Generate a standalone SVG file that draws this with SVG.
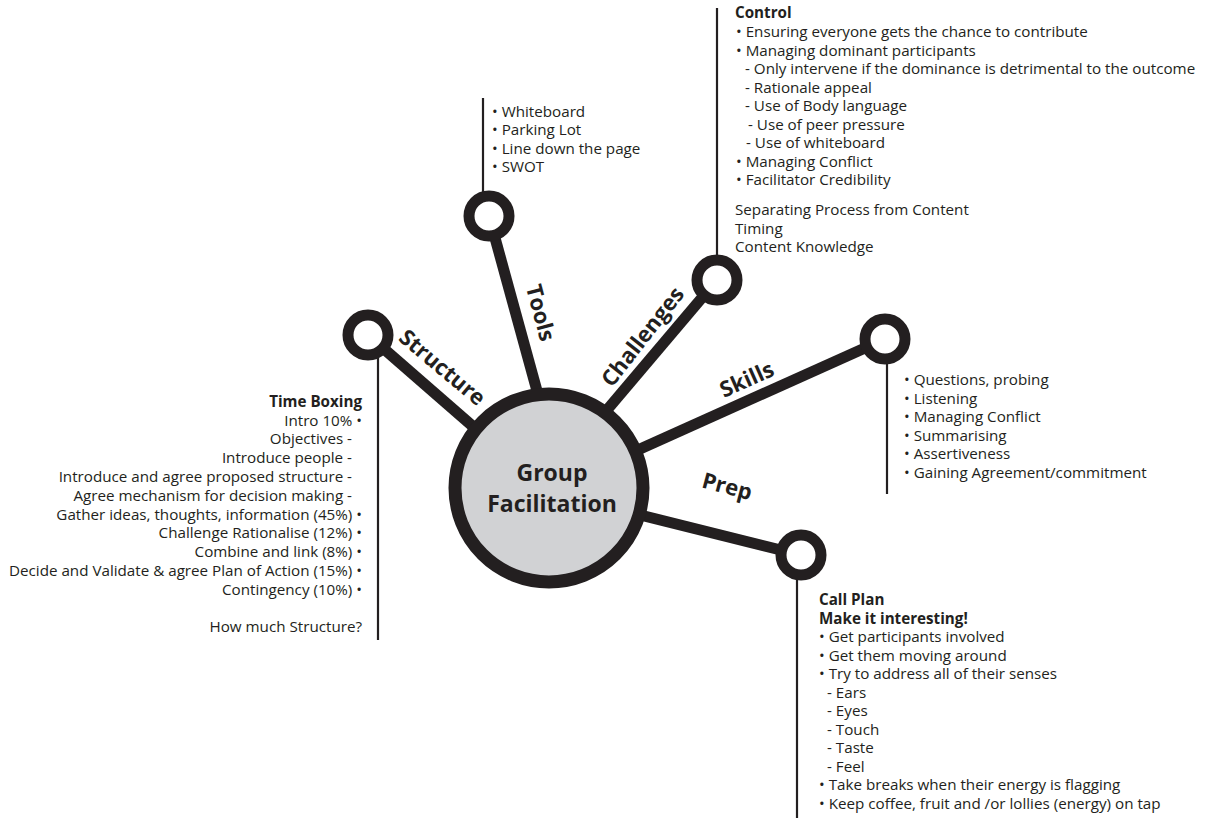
<svg xmlns="http://www.w3.org/2000/svg" width="1212" height="818" viewBox="0 0 1212 818">
  <style>
    .txt { font-family: "Open Sans", "Noto Sans", "Liberation Sans", sans-serif; font-size: 15.2px; fill: #231f20; }
    .b { font-weight: bold; }
    .lbl { font-family: "Open Sans", "Noto Sans", "Liberation Sans", sans-serif; font-size: 22px; font-weight: bold; fill: #231f20; }
    .hub { font-family: "Open Sans", "Noto Sans", "Liberation Sans", sans-serif; font-size: 23px; font-weight: bold; fill: #231f20; }
    .spoke { stroke: #231f20; stroke-width: 11; fill: none; }
    .stem { stroke: #231f20; stroke-width: 2.2; fill: none; }
    .ring { stroke: #231f20; stroke-width: 11; fill: #ffffff; }
  </style>
  <rect width="1212" height="818" fill="#ffffff"/>

  <!-- spokes and stems -->
  <g id="connectors">
    <line class="spoke" x1="368" y1="335" x2="500" y2="450"/>
    <line class="spoke" x1="489" y1="216" x2="545" y2="420"/>
    <line class="spoke" x1="717" y1="280" x2="590" y2="430"/>
    <line class="spoke" x1="885" y1="339" x2="620" y2="458"/>
    <line class="spoke" x1="801" y1="555" x2="620" y2="510"/>
    <line class="stem" x1="378" y1="355" x2="378" y2="640"/>
    <line class="stem" x1="483" y1="98" x2="483" y2="195"/>
    <line class="stem" x1="717" y1="8" x2="717" y2="258"/>
    <line class="stem" x1="887" y1="362" x2="887" y2="494"/>
    <line class="stem" x1="797" y1="578" x2="797" y2="818"/>
  </g>

  <g id="hub">
    <circle cx="549" cy="488" r="94" fill="#d1d2d4" stroke="#231f20" stroke-width="13"/>
    <text class="hub" x="552" y="481" text-anchor="middle">Group</text>
    <text class="hub" x="552" y="512" text-anchor="middle">Facilitation</text>
  </g>

  <g id="structure">
    <circle class="ring" cx="368" cy="335" r="20"/>
    <text class="lbl" transform="translate(442,368) rotate(40)" text-anchor="middle" dy="7">Structure</text>
    <g class="txt" text-anchor="end">
      <text class="b" x="362" y="407">Time Boxing</text>
      <text x="362" y="425.5">Intro 10% •</text>
      <text x="352" y="444.3">Objectives -</text>
      <text x="352" y="463">Introduce people -</text>
      <text x="352" y="482">Introduce and agree proposed structure -</text>
      <text x="352" y="500.7">Agree mechanism for decision making -</text>
      <text x="362" y="519.5">Gather ideas, thoughts, information (45%) •</text>
      <text x="362" y="538.3">Challenge Rationalise (12%) •</text>
      <text x="362" y="557">Combine and link (8%) •</text>
      <text x="362" y="576">Decide and Validate &amp; agree Plan of Action (15%) •</text>
      <text x="362" y="595">Contingency (10%) •</text>
      <text x="362" y="632.4">How much Structure?</text>
    </g>
  </g>

  <g id="tools">
    <circle class="ring" cx="489" cy="216" r="20"/>
    <text class="lbl" transform="translate(540,313) rotate(75)" text-anchor="middle" dy="7">Tools</text>
    <g class="txt">
      <text x="492" y="116.5">• Whiteboard</text>
      <text x="492" y="135">• Parking Lot</text>
      <text x="492" y="153.5">• Line down the page</text>
      <text x="492" y="172">• SWOT</text>
    </g>
  </g>

  <g id="challenges">
    <circle class="ring" cx="717" cy="280" r="20"/>
    <text class="lbl" transform="translate(643,337) rotate(-52)" text-anchor="middle" dy="7">Challenges</text>
    <g class="txt">
      <text class="b" x="735" y="18">Control</text>
      <text x="736" y="37">• Ensuring everyone gets the chance to contribute</text>
      <text x="736" y="55.5">• Managing dominant participants</text>
      <text x="745" y="74">- Only intervene if the dominance is detrimental to the outcome</text>
      <text x="745" y="92.5">- Rationale appeal</text>
      <text x="745" y="111">- Use of Body language</text>
      <text x="748" y="129.5">- Use of peer pressure</text>
      <text x="746" y="148">- Use of whiteboard</text>
      <text x="736" y="166.5">• Managing Conflict</text>
      <text x="736" y="185">• Facilitator Credibility</text>
      <text x="735" y="215">Separating Process from Content</text>
      <text x="735" y="233.5">Timing</text>
      <text x="735" y="252">Content Knowledge</text>
    </g>
  </g>

  <g id="skills">
    <circle class="ring" cx="885" cy="339" r="20"/>
    <text class="lbl" transform="translate(747,380) rotate(-24)" text-anchor="middle" dy="7">Skills</text>
    <g class="txt">
      <text x="904" y="385">• Questions, probing</text>
      <text x="904" y="403.5">• Listening</text>
      <text x="904" y="422">• Managing Conflict</text>
      <text x="904" y="440.5">• Summarising</text>
      <text x="904" y="459">• Assertiveness</text>
      <text x="904" y="477.5">• Gaining Agreement/commitment</text>
    </g>
  </g>

  <g id="prep">
    <circle class="ring" cx="801" cy="555" r="20"/>
    <text class="lbl" transform="translate(727,487) rotate(15)" text-anchor="middle" dy="7">Prep</text>
    <g class="txt">
      <text class="b" x="819" y="605">Call Plan</text>
      <text class="b" x="819" y="623.5">Make it interesting!</text>
      <text x="819" y="642">• Get participants involved</text>
      <text x="819" y="660.5">• Get them moving around</text>
      <text x="819" y="679">• Try to address all of their senses</text>
      <text x="827" y="697.5">- Ears</text>
      <text x="827" y="716">- Eyes</text>
      <text x="827" y="734.5">- Touch</text>
      <text x="827" y="753">- Taste</text>
      <text x="827" y="771.5">- Feel</text>
      <text x="819" y="790">• Take breaks when their energy is flagging</text>
      <text x="819" y="808.5">• Keep coffee, fruit and /or lollies (energy) on tap</text>
    </g>
  </g>
</svg>
